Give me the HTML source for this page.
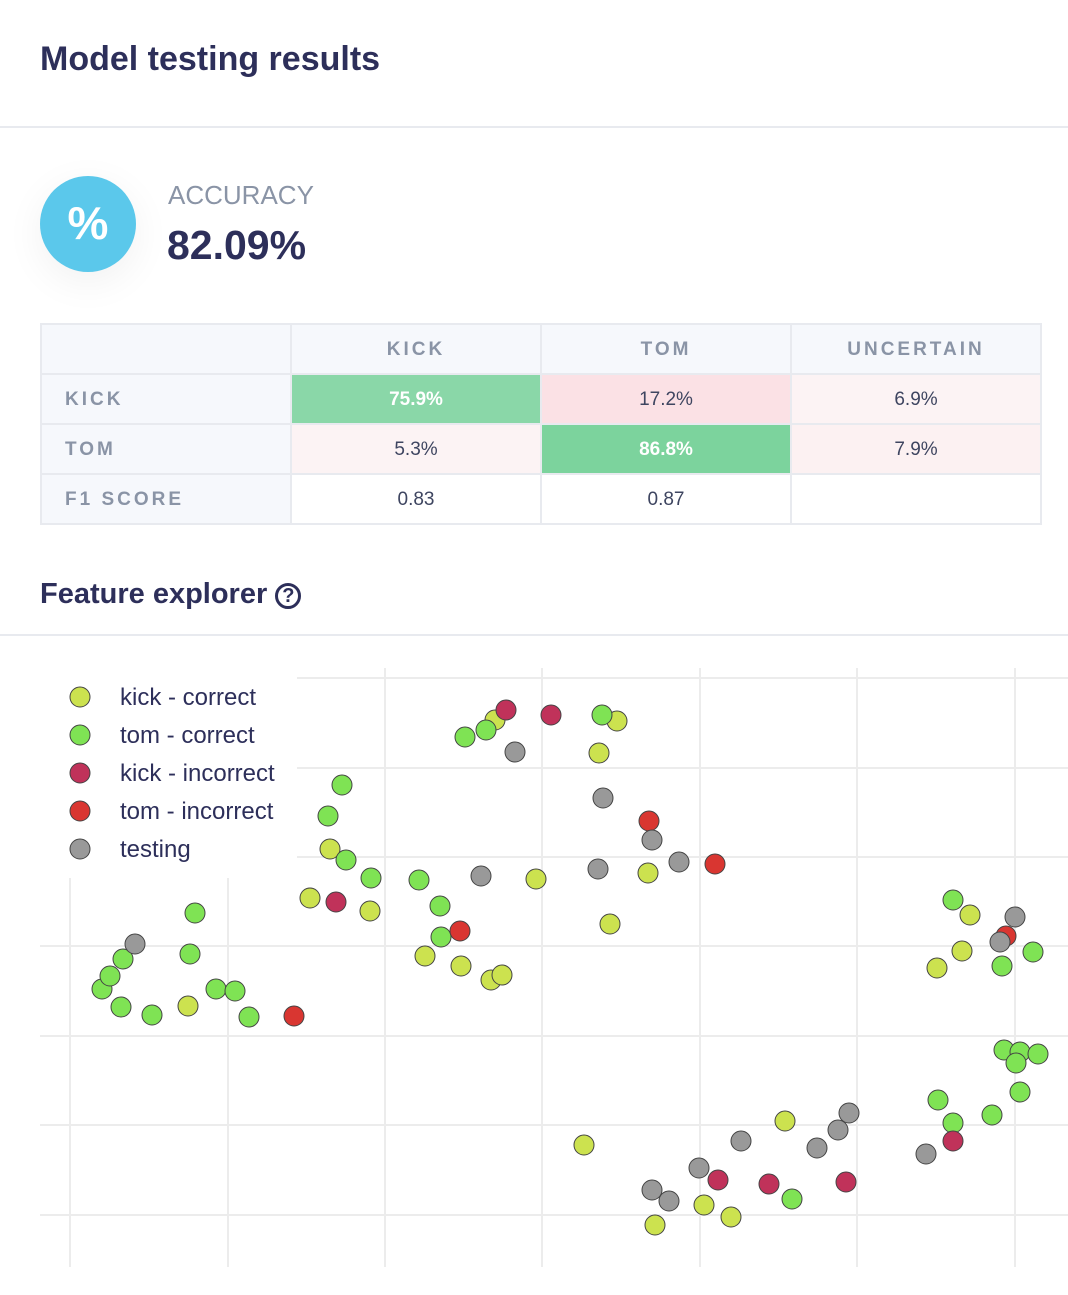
<!DOCTYPE html>
<html><head><meta charset="utf-8"><style>
body{margin:0;width:1068px;height:1295px;background:#fff;font-family:"Liberation Sans",sans-serif;position:relative;overflow:hidden;color:#2e3157}
.t{position:absolute;white-space:nowrap}
table{position:absolute;left:40px;top:323px;border-collapse:collapse;width:1000px;table-layout:fixed}
td{border:2px solid #e8eaef;height:48px;text-align:center;font-size:19px;color:#3e4560;width:250px;padding:2px 0 0 0;box-sizing:border-box}
tr{height:50px}
td.h{color:#8a94a6;letter-spacing:3px;font-weight:bold;font-size:19px;background:#f6f8fc}
td.l{text-align:left;padding-left:23px}
</style></head><body>
<div class="t" style="left:40px;top:40px;font-size:34px;font-weight:bold;color:#2d2f5a">Model testing results</div>
<div style="position:absolute;left:0;top:126px;width:1068px;height:2px;background:#e8eaef"></div>
<div style="position:absolute;left:40px;top:176px;width:96px;height:96px;border-radius:50%;background:#5bc8eb;box-shadow:0 10px 40px rgba(0,0,0,0.06)"></div>
<div class="t" style="left:40px;top:196px;width:96px;text-align:center;font-size:46px;font-weight:bold;color:#fff">%</div>
<div class="t" style="left:168px;top:180px;font-size:26px;color:#8a94a6">ACCURACY</div>
<div class="t" style="left:167px;top:222px;font-size:41px;font-weight:bold;color:#2d2f5a">82.09%</div>
<table>
<tr><td class="h"></td><td class="h">KICK</td><td class="h">TOM</td><td class="h">UNCERTAIN</td></tr>
<tr><td class="h l">KICK</td><td style="background:#8ad7a8;color:#fff;font-weight:bold">75.9%</td><td style="background:#fbe1e5">17.2%</td><td style="background:#fcf3f4">6.9%</td></tr>
<tr><td class="h l">TOM</td><td style="background:#fcf3f4">5.3%</td><td style="background:#7cd39d;color:#fff;font-weight:bold">86.8%</td><td style="background:#fcf1f2">7.9%</td></tr>
<tr><td class="h l">F1 SCORE</td><td>0.83</td><td>0.87</td><td></td></tr>
</table>
<div class="t" style="left:40px;top:578px;font-size:29px;font-weight:bold;color:#2d2f5a">Feature explorer <span style="display:inline-block;width:26px;height:26px;border:3px solid #2d2f5a;border-radius:50%;font-size:20px;text-align:center;vertical-align:1px;box-sizing:border-box;line-height:20px">?</span></div>
<div style="position:absolute;left:0;top:634px;width:1068px;height:2px;background:#e8eaef"></div>
<svg style="position:absolute;left:0;top:0" width="1068" height="1295">
<g stroke="#ececec" stroke-width="2">
<line x1="70" y1="668" x2="70" y2="1267"/><line x1="228" y1="668" x2="228" y2="1267"/><line x1="385" y1="668" x2="385" y2="1267"/><line x1="542" y1="668" x2="542" y2="1267"/><line x1="700" y1="668" x2="700" y2="1267"/><line x1="857" y1="668" x2="857" y2="1267"/><line x1="1015" y1="668" x2="1015" y2="1267"/>
<line x1="40" y1="678" x2="1068" y2="678"/><line x1="40" y1="768" x2="1068" y2="768"/><line x1="40" y1="857" x2="1068" y2="857"/><line x1="40" y1="946" x2="1068" y2="946"/><line x1="40" y1="1036" x2="1068" y2="1036"/><line x1="40" y1="1125" x2="1068" y2="1125"/><line x1="40" y1="1215" x2="1068" y2="1215"/>
</g>
<rect x="40" y="660" width="257" height="218" fill="#fff"/>
<g stroke="#444" stroke-width="1">
<g fill="#cce24f">
<circle cx="80" cy="697" r="10"/>
<circle cx="495" cy="720" r="10"/><circle cx="599" cy="753" r="10"/><circle cx="617" cy="721" r="10"/><circle cx="330" cy="849" r="10"/><circle cx="310" cy="898" r="10"/><circle cx="370" cy="911" r="10"/><circle cx="536" cy="879" r="10"/><circle cx="648" cy="873" r="10"/><circle cx="610" cy="924" r="10"/><circle cx="425" cy="956" r="10"/><circle cx="461" cy="966" r="10"/><circle cx="491" cy="980" r="10"/><circle cx="502" cy="975" r="10"/><circle cx="188" cy="1006" r="10"/><circle cx="970" cy="915" r="10"/><circle cx="962" cy="951" r="10"/><circle cx="937" cy="968" r="10"/><circle cx="584" cy="1145" r="10"/><circle cx="785" cy="1121" r="10"/><circle cx="704" cy="1205" r="10"/><circle cx="731" cy="1217" r="10"/><circle cx="655" cy="1225" r="10"/>
</g>
<g fill="#7fe354">
<circle cx="80" cy="735" r="10"/>
<circle cx="465" cy="737" r="10"/><circle cx="486" cy="730" r="10"/><circle cx="602" cy="715" r="10"/><circle cx="342" cy="785" r="10"/><circle cx="328" cy="816" r="10"/><circle cx="346" cy="860" r="10"/><circle cx="371" cy="878" r="10"/><circle cx="419" cy="880" r="10"/><circle cx="440" cy="906" r="10"/><circle cx="441" cy="937" r="10"/><circle cx="195" cy="913" r="10"/><circle cx="190" cy="954" r="10"/><circle cx="102" cy="989" r="10"/><circle cx="110" cy="976" r="10"/><circle cx="123" cy="959" r="10"/><circle cx="121" cy="1007" r="10"/><circle cx="152" cy="1015" r="10"/><circle cx="216" cy="989" r="10"/><circle cx="235" cy="991" r="10"/><circle cx="249" cy="1017" r="10"/><circle cx="953" cy="900" r="10"/><circle cx="1033" cy="952" r="10"/><circle cx="1002" cy="966" r="10"/><circle cx="1004" cy="1050" r="10"/><circle cx="1020" cy="1052" r="10"/><circle cx="1038" cy="1054" r="10"/><circle cx="1016" cy="1063" r="10"/><circle cx="1020" cy="1092" r="10"/><circle cx="992" cy="1115" r="10"/><circle cx="938" cy="1100" r="10"/><circle cx="953" cy="1123" r="10"/><circle cx="792" cy="1199" r="10"/>
</g>
<g fill="#c0325a">
<circle cx="80" cy="773" r="10"/>
<circle cx="506" cy="710" r="10"/><circle cx="551" cy="715" r="10"/><circle cx="336" cy="902" r="10"/><circle cx="718" cy="1180" r="10"/><circle cx="769" cy="1184" r="10"/><circle cx="846" cy="1182" r="10"/><circle cx="953" cy="1141" r="10"/>
</g>
<g fill="#d93631">
<circle cx="80" cy="811" r="10"/>
<circle cx="649" cy="821" r="10"/><circle cx="715" cy="864" r="10"/><circle cx="460" cy="931" r="10"/><circle cx="294" cy="1016" r="10"/><circle cx="1006" cy="936" r="10"/>
</g>
<g fill="#999">
<circle cx="80" cy="849" r="10"/>
<circle cx="515" cy="752" r="10"/><circle cx="603" cy="798" r="10"/><circle cx="652" cy="840" r="10"/><circle cx="679" cy="862" r="10"/><circle cx="598" cy="869" r="10"/><circle cx="481" cy="876" r="10"/><circle cx="135" cy="944" r="10"/><circle cx="1015" cy="917" r="10"/><circle cx="1000" cy="942" r="10"/><circle cx="741" cy="1141" r="10"/><circle cx="849" cy="1113" r="10"/><circle cx="838" cy="1130" r="10"/><circle cx="817" cy="1148" r="10"/><circle cx="926" cy="1154" r="10"/><circle cx="699" cy="1168" r="10"/><circle cx="652" cy="1190" r="10"/><circle cx="669" cy="1201" r="10"/>
</g>
</g>
<g font-family="Liberation Sans, sans-serif" font-size="24" fill="#2d2f5a">
<text x="120" y="705">kick - correct</text><text x="120" y="743">tom - correct</text><text x="120" y="781">kick - incorrect</text><text x="120" y="819">tom - incorrect</text><text x="120" y="857">testing</text>
</g>
</svg>
</body></html>
